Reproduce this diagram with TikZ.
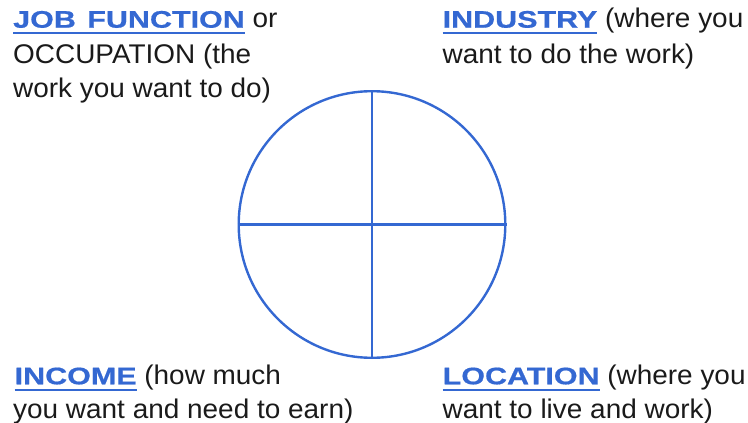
\documentclass[tikz,border=0pt]{standalone}
\usepackage{fontspec}
\setmainfont[FakeStretch=1.035]{Liberation Sans}
\newfontfamily\headfont[FakeStretch=1.27,FakeBold=0.6]{Liberation Sans Bold}
\definecolor{hblue}{RGB}{52,104,210}
\definecolor{txt}{RGB}{26,26,26}
\newcommand\hd[1]{{\color{hblue}\setbox0\hbox{\headfont\fontsize{24}{24}\selectfont #1}\rlap{\rule[-6.8pt]{\wd0}{2pt}}\box0}}
\tikzset{
  lbl/.style={anchor=base west, inner sep=0pt, text=txt, font=\fontsize{27}{34}\selectfont},
  ring/.style={draw=hblue, line width=2.4pt}
}
\begin{document}
\begin{tikzpicture}[x=1pt,y=-1pt]
\useasboundingbox (0,0) rectangle (748,423);
% texts
\node[lbl] (jf1) at (13,27.7) {\hd{JOB\hspace{3pt} FUNCTION} or};
\node[lbl] (jf2) at (13,63.3) {OCCUPATION (the};
\node[lbl] (jf3) at (13,97) {work you want to do)};
\node[lbl] (in1) at (442.5,27.7) {\hd{INDUSTRY} (where you};
\node[lbl] (in2) at (442.5,63.3) {want to do the work)};
\node[lbl] (ic1) at (14.5,384.3) {\hd{INCOME} (how much};
\node[lbl] (ic2) at (13,418.3) {you want and need to earn)};
\node[lbl] (lo1) at (442.5,384.3) {\hd{LOCATION} (where you};
\node[lbl] (lo2) at (442.5,418.3) {want to live and work)};
% circle
\node[ring, circle, minimum size=266.6pt, inner sep=0pt] (c) at (372,224.5) {};
\draw[ring] (c.north) -- (c.south);
\draw[ring] (c.west) -- (c.east);
\end{tikzpicture}
\end{document}
